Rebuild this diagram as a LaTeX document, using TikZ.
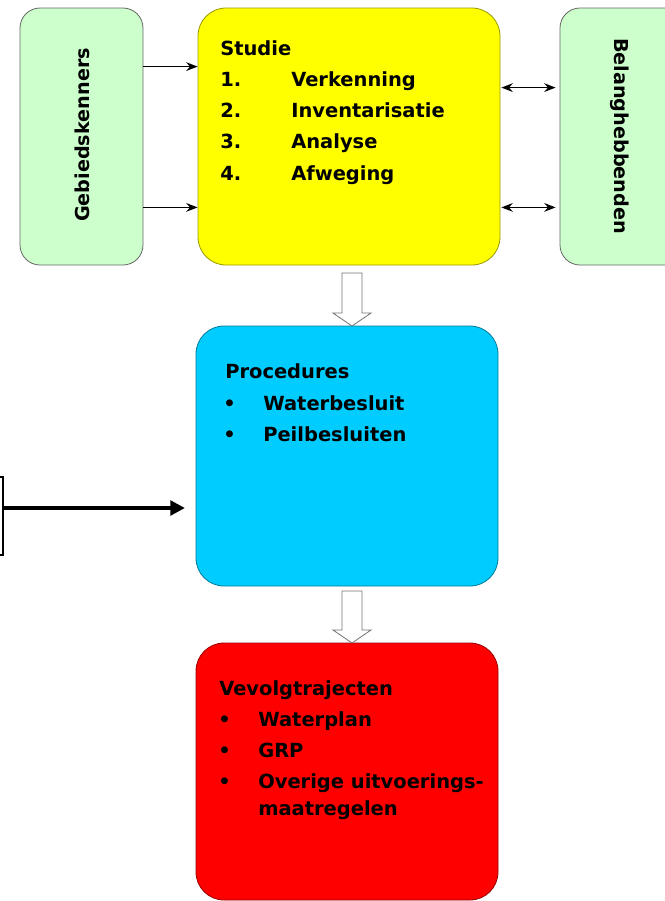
\documentclass[tikz,border=0pt]{standalone}
\usepackage{fontspec}
\setmainfont{DejaVu Sans}
\usetikzlibrary{arrows.meta, calc, positioning}

\definecolor{areagreen}{RGB}{204, 255, 204}
\definecolor{studyellow}{RGB}{255, 255, 0}
\definecolor{procblue}{RGB}{0, 204, 255}
\definecolor{nextred}{RGB}{255, 0, 0}

\tikzset{
  box/.style={inner sep=0pt, draw=#1!60!black, line width=0.6pt},
  txt/.style={anchor=base west, inner sep=0pt, font=\bfseries\fontsize{14.6}{17}\selectfont},
  sidetxt/.style={inner sep=0pt, font=\bfseries\fontsize{14.4}{17}\selectfont},
  thinarrow/.style={line width=1.2pt, -{Stealth[length=8.5pt, width=6.5pt]}},
  botharrow/.style={line width=1.2pt, {Stealth[length=8.5pt, width=6.5pt]}-{Stealth[length=8.5pt, width=6.5pt]}},
  thickarrow/.style={line width=3pt, -{Triangle[length=11pt, width=11pt]}},
  hollow/.style={draw=black!55, fill=white, line width=0.6pt}
}

\begin{document}
\begin{tikzpicture}[x=0.75pt, y=-0.75pt]
  \clip (0,0) rectangle (665,901);

  % Side boxes
  \node[box=areagreen, fill=areagreen, draw=black!60, rounded corners=15pt, minimum width=92.25pt, minimum height=192.75pt] (gebied) at (81.5,136.5) {};
  \node[sidetxt, rotate=90] (gebiedtxt) at (82,135) {Gebiedskenners};

  \node[box=areagreen, fill=areagreen, draw=black!60, rounded corners=15pt, minimum width=97.5pt, minimum height=192.75pt] (belang) at (625,136.5) {};
  \node[sidetxt, rotate=-90] (belangtxt) at (620,136) {Belanghebbenden};

  % Studie
  \node[box=studyellow, fill=studyellow, rounded corners=21pt, minimum width=226.5pt, minimum height=192.75pt] (studie) at (349,136.5) {};
  \node[txt] (studiehead) at (220,55) {Studie};
  \node[txt] (n1) at (220,86) {1.};
  \node[txt] (s1) at (291,86) {Verkenning};
  \node[txt] (n2) at (220,117) {2.};
  \node[txt] (s2) at (291,117) {Inventarisatie};
  \node[txt] (n3) at (220,148) {3.};
  \node[txt] (s3) at (291,148) {Analyse};
  \node[txt] (n4) at (220,180) {4.};
  \node[txt] (s4) at (291,180) {Afweging};

  % Procedures
  \node[box=procblue, fill=procblue, rounded corners=21pt, minimum width=226.5pt, minimum height=195pt] (proc) at (347,456) {};
  \node[txt] (prochead) at (225,378) {Procedures};
  \node[txt] (pb1) at (223,410) {•};
  \node[txt] (p1) at (263,410) {Waterbesluit};
  \node[txt] (pb2) at (223,441) {•};
  \node[txt] (p2) at (263,441) {Peilbesluiten};

  % Vervolgtrajecten
  \node[box=nextred, fill=nextred, rounded corners=21pt, minimum width=226.5pt, minimum height=192.75pt] (vervolg) at (347,771.5) {};
  \node[txt] (vervolghead) at (219,695) {Vevolgtrajecten};
  \node[txt] (vb1) at (218,726) {•};
  \node[txt] (v1) at (258,726) {Waterplan};
  \node[txt] (vb2) at (218,757) {•};
  \node[txt] (v2) at (258,757) {GRP};
  \node[txt] (vb3) at (218,788) {•};
  \node[txt] (v3) at (258,788) {Overige uitvoerings-};
  \node[txt] (v4) at (258,815) {maatregelen};

  % Box cut off at the left edge
  \node[draw=black, fill=white, line width=0.9pt, inner sep=0pt, minimum width=17.25pt, minimum height=58.5pt] (extern) at (-8.5,516) {};

  % Connectors
  \draw[thinarrow] ($(gebied.north east)+(0,59)$) -- ($(studie.north west)+(0,59)$);
  \draw[thinarrow] ($(gebied.south east)+(0,-58)$) -- ($(studie.south west)+(0,-58)$);
  \draw[botharrow, shorten >=3pt] ($(studie.north east)+(1,80)$) -- ($(belang.north west)+(0,80)$);
  \draw[botharrow, shorten >=3pt] ($(studie.south east)+(1,-58)$) -- ($(belang.south west)+(0,-58)$);
  \draw[thickarrow, shorten >=8pt] ($(extern.east)+(0,-8)$) -- ($(proc.west)+(0,52)$);

  % Hollow arrows between the stages
  \coordinate (h1) at (352,273);
  \draw[hollow] (h1) ++(-10,0) -- ++(20,0) -- ++(0,40) -- ++(9,0) -- ++(-19,13) -- ++(-19,-13) -- ++(9,0) -- cycle;
  \coordinate (h2) at (352,591);
  \draw[hollow] (h2) ++(-10,0) -- ++(20,0) -- ++(0,39) -- ++(9,0) -- ++(-19,13) -- ++(-19,-13) -- ++(9,0) -- cycle;
\end{tikzpicture}
\end{document}
